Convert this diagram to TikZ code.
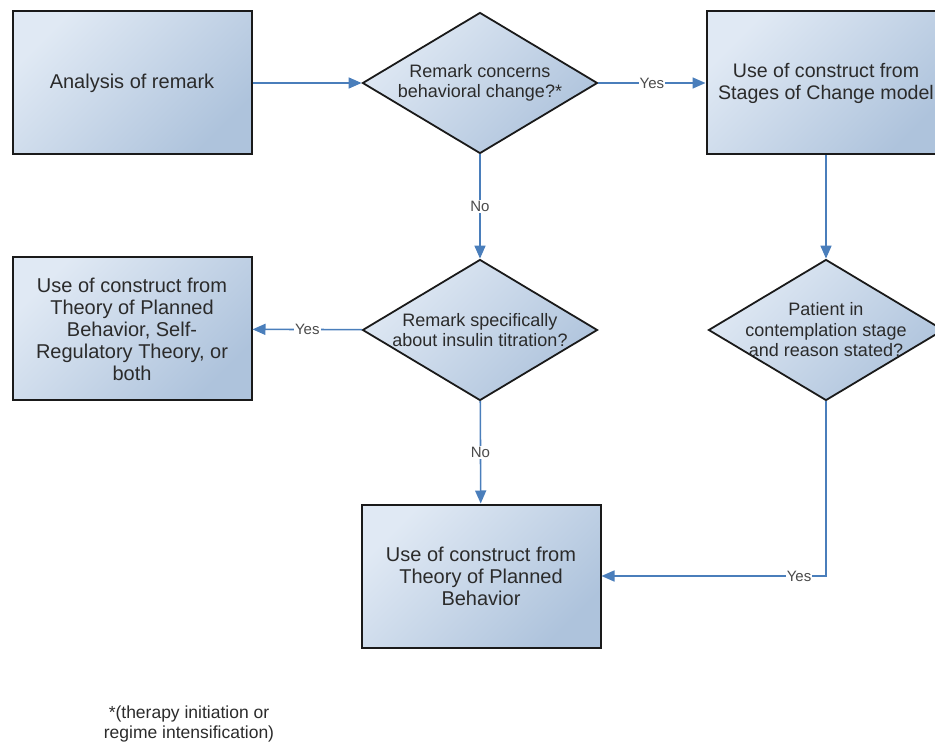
\documentclass[tikz,border=0pt]{standalone}
\usepackage{fontspec}
\setmainfont{Liberation Sans}
\usetikzlibrary{shapes.geometric,arrows.meta}
\definecolor{boxlight}{HTML}{E0E9F4}
\definecolor{boxdark}{HTML}{AEC3DC}
\definecolor{edge}{HTML}{1A1A1A}
\definecolor{flow}{HTML}{4A7EBB}
\definecolor{ink}{HTML}{2B2B2B}

\begin{document}
\begin{tikzpicture}[
  x=1pt, y=-1pt,
  stage/.style={draw=edge, top color=boxlight, bottom color=boxdark,
                shading angle=45, line width=2pt,
                minimum width=239pt, minimum height=143pt, align=center,
                text=ink, font=\fontsize{20}{22}\selectfont},
  query/.style={diamond, draw=edge, top color=boxlight, bottom color=boxdark,
                shading angle=45, line width=1.8pt, inner sep=-12pt, aspect=1.67,
                minimum width=235pt, minimum height=141pt, align=center,
                text=ink, font=\fontsize{18}{20.5}\selectfont},
  flowline/.style={draw=flow, line width=1.6pt,
                   -{Triangle[length=13pt,width=11pt]}},
  answer/.style={fill=white, inner sep=1pt, text=ink!85,
                 font=\fontsize{15}{17}\selectfont},
]
\clip (0,0) rectangle (935,743);

% --- Inicio ---
\node[stage] (analysis) at (132,83) {Analysis of remark};

% --- Decisiones ---
\node[query] (change) at (480,83) {Remark concerns\\behavioral change?*};
\node[query] (insulin) at (480,330) {Remark specifically\\about insulin titration?};
\node[query] (contemp) at (826,330) {Patient in\\contemplation stage\\and reason stated?};

% --- Constructos ---
\node[stage, font=\fontsize{19.6}{22}\selectfont] (stages) at (826,83)
  {Use of construct from\\Stages of Change model};
\node[stage] (selfreg) at (132,329) {Use of construct from\\Theory of Planned\\Behavior, Self-\\Regulatory Theory, or\\both};
\node[stage] (planned) at (481,576) {Use of construct from\\Theory of Planned\\Behavior};

% --- Conexiones ---
\draw[flowline] (analysis) -- (change);
\draw[flowline] (change) -- node[answer] {Yes} (stages);
\draw[flowline] (change) -- node[answer] {No} (insulin);
\draw[flowline] (insulin) -- node[answer] {Yes} (selfreg);
\draw[flowline] (insulin) -- node[answer] {No} (planned);
\draw[flowline] (stages) -- (contemp);
\draw[flowline] (contemp) |- node[answer, pos=0.56] {Yes} (planned);

% --- Nota ---
\node[text=ink, align=center, font=\fontsize{17.5}{20.5}\selectfont] (note) at (189,724)
  {*(therapy initiation or\\regime intensification)};

\end{tikzpicture}
\end{document}
